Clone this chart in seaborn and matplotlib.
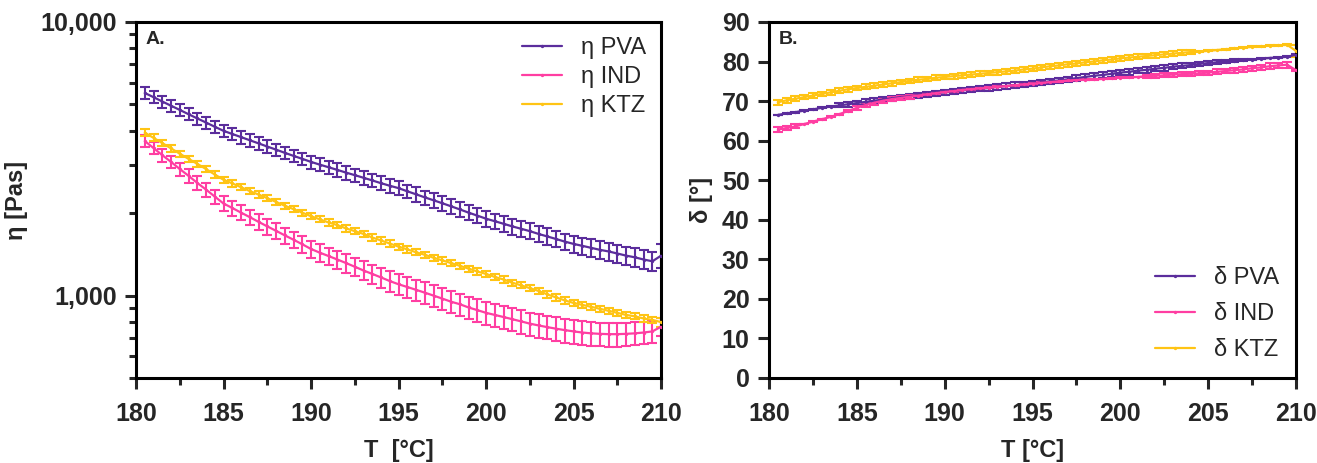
import matplotlib
matplotlib.use('Agg')
import matplotlib.pyplot as plt
import matplotlib.ticker as mticker
import seaborn as sns
import pandas as pd

# temperature points (°C)
temp = [180.5, 181, 181.5, 182, 182.5, 183, 183.5, 184, 184.5, 185,
        185.5, 186, 186.5, 187, 187.5, 188, 188.5, 189, 189.5, 190,
        190.5, 191, 191.5, 192, 192.5, 193, 193.5, 194, 194.5, 195,
        195.5, 196, 196.5, 197, 197.5, 198, 198.5, 199, 199.5, 200,
        200.5, 201, 201.5, 202, 202.5, 203, 203.5, 204, 204.5, 205,
        205.5, 206, 206.5, 207, 207.5, 208, 208.5, 209, 209.5, 210]

# complex viscosity eta [Pas]
eta_pva = [5500, 5310, 5120, 4940, 4770, 4600, 4440, 4290, 4140, 4000,
           3895, 3795, 3695, 3600, 3505, 3415, 3325, 3240, 3160, 3080,
           3010, 2945, 2880, 2815, 2755, 2695, 2635, 2575, 2520, 2470,
           2405, 2345, 2285, 2230, 2175, 2120, 2065, 2010, 1960, 1910,
           1870, 1830, 1790, 1755, 1720, 1680, 1645, 1610, 1575, 1545,
           1520, 1495, 1470, 1450, 1425, 1400, 1380, 1355, 1335, 1400]
eta_pva_err = [280, 270, 260, 250, 240, 235, 225, 220, 215, 210,
               205, 200, 195, 190, 185, 180, 180, 175, 170, 170,
               165, 165, 160, 160, 155, 155, 150, 150, 145, 145,
               140, 140, 135, 135, 130, 130, 130, 125, 125, 125,
               120, 120, 120, 115, 115, 115, 115, 110, 110, 110,
               110, 110, 110, 110, 108, 108, 108, 107, 107, 140]

eta_ind = [3670, 3460, 3260, 3080, 2900, 2740, 2580, 2440, 2300, 2170,
           2090, 2010, 1935, 1860, 1790, 1725, 1660, 1600, 1540, 1480,
           1435, 1395, 1355, 1315, 1275, 1235, 1200, 1165, 1130, 1100,
           1075, 1050, 1025, 1000, 975, 950, 930, 905, 885, 865,
           850, 835, 820, 805, 790, 778, 767, 757, 748, 740,
           733, 728, 725, 723, 723, 725, 728, 733, 740, 770]
eta_ind_err = [185, 180, 175, 165, 160, 155, 150, 145, 140, 135,
               130, 128, 125, 120, 118, 115, 112, 110, 108, 105,
               104, 103, 102, 101, 100, 99, 98, 97, 96, 95,
               94, 93, 92, 90, 89, 88, 86, 85, 84, 82,
               81, 80, 79, 78, 77, 76, 75, 75, 74, 74,
               73, 73, 72, 72, 72, 71, 70, 70, 68, 60]

eta_ktz = [3940, 3770, 3610, 3450, 3300, 3160, 3030, 2900, 2770, 2650,
           2570, 2490, 2410, 2340, 2270, 2200, 2130, 2070, 2010, 1950,
           1900, 1850, 1810, 1760, 1720, 1680, 1630, 1590, 1550, 1510,
           1475, 1440, 1410, 1375, 1345, 1315, 1285, 1255, 1225, 1200,
           1170, 1145, 1115, 1090, 1065, 1040, 1010, 985, 960, 940,
           925, 910, 895, 880, 865, 850, 840, 825, 815, 800]
eta_ktz_err = [120, 110, 100, 95, 90, 85, 80, 78, 75, 72,
               70, 68, 65, 63, 60, 58, 56, 54, 52, 50,
               49, 48, 47, 46, 45, 44, 43, 42, 41, 40,
               39, 38, 37, 36, 35, 34, 33, 33, 32, 31,
               30, 30, 29, 28, 28, 27, 27, 26, 25, 25,
               24, 24, 23, 23, 23, 22, 22, 22, 21, 30]

# phase angle delta [°]
delta_pva = [66.5, 66.9, 67.2, 67.6, 67.9, 68.3, 68.6, 68.9, 69.2, 69.5,
             69.8, 70.1, 70.4, 70.7, 71.0, 71.2, 71.5, 71.7, 72.0, 72.2,
             72.4, 72.7, 72.9, 73.1, 73.3, 73.6, 73.8, 74.0, 74.2, 74.4,
             74.7, 75.0, 75.2, 75.5, 75.8, 76.1, 76.4, 76.6, 76.9, 77.2,
             77.4, 77.7, 77.9, 78.2, 78.4, 78.7, 78.9, 79.1, 79.4, 79.6,
             79.8, 80.0, 80.2, 80.4, 80.5, 80.7, 80.9, 81.0, 81.2, 81.7]
delta_pva_err = [0.1, 0.1, 0.1, 0.1, 0.1, 0.1, 0.1, 0.5, 0.6, 0.6,
                 0.6, 0.6, 0.6, 0.6, 0.6, 0.6, 0.6, 0.6, 0.6, 0.6,
                 0.6, 0.6, 0.6, 0.6, 0.7, 0.7, 0.7, 0.7, 0.7, 0.7,
                 0.7, 0.7, 0.7, 0.7, 0.7, 0.7, 0.7, 0.7, 0.7, 0.7,
                 0.7, 0.7, 0.7, 0.7, 0.7, 0.6, 0.6, 0.6, 0.5, 0.5,
                 0.5, 0.4, 0.4, 0.3, 0.1, 0.1, 0.1, 0.1, 0.1, 0.1]

delta_ind = [62.8, 63.2, 63.6, 64.2, 64.8, 65.4, 66.0, 66.7, 67.5, 68.3,
             69.0, 69.6, 70.1, 70.5, 70.8, 71.1, 71.4, 71.7, 72.0, 72.3,
             72.5, 72.8, 73.0, 73.2, 73.4, 73.6, 73.8, 74.0, 74.2, 74.4,
             74.6, 74.8, 75.0, 75.2, 75.3, 75.4, 75.5, 75.6, 75.8, 75.9,
             76.0, 76.1, 76.3, 76.4, 76.5, 76.7, 76.8, 76.9, 77.0, 77.2,
             77.4, 77.6, 77.8, 78.0, 78.3, 78.5, 78.8, 79.0, 79.2, 77.8]
delta_ind_err = [0.6, 0.6, 0.5, 0.1, 0.1, 0.1, 0.1, 0.1, 0.3, 0.5,
                 0.5, 0.5, 0.5, 0.5, 0.5, 0.5, 0.1, 0.1, 0.1, 0.1,
                 0.1, 0.1, 0.1, 0.1, 0.1, 0.1, 0.1, 0.1, 0.1, 0.1,
                 0.1, 0.1, 0.1, 0.1, 0.1, 0.1, 0.1, 0.1, 0.1, 0.1,
                 0.1, 0.1, 0.4, 0.5, 0.5, 0.5, 0.5, 0.5, 0.5, 0.5,
                 0.6, 0.6, 0.6, 0.6, 0.6, 0.7, 0.7, 0.7, 0.8, 0.3]

delta_ktz = [69.7, 70.2, 70.6, 71.0, 71.4, 71.8, 72.2, 72.6, 73.0, 73.3,
             73.6, 73.9, 74.2, 74.5, 74.8, 75.1, 75.4, 75.6, 75.9, 76.1,
             76.3, 76.5, 76.7, 76.9, 77.1, 77.3, 77.5, 77.7, 78.0, 78.2,
             78.5, 78.8, 79.0, 79.3, 79.5, 79.8, 80.0, 80.3, 80.5, 80.8,
             81.0, 81.2, 81.4, 81.6, 81.8, 82.0, 82.2, 82.4, 82.5, 82.7,
             82.9, 83.1, 83.3, 83.5, 83.7, 83.8, 84.0, 84.1, 84.2, 82.7]
delta_ktz_err = [0.6, 0.6, 0.6, 0.6, 0.6, 0.6, 0.6, 0.6, 0.6, 0.6,
                 0.6, 0.6, 0.6, 0.6, 0.6, 0.6, 0.6, 0.6, 0.6, 0.6,
                 0.6, 0.6, 0.6, 0.6, 0.6, 0.6, 0.6, 0.6, 0.6, 0.6,
                 0.6, 0.6, 0.6, 0.6, 0.6, 0.6, 0.6, 0.6, 0.6, 0.6,
                 0.6, 0.6, 0.6, 0.6, 0.6, 0.6, 0.6, 0.5, 0.1, 0.1,
                 0.1, 0.1, 0.1, 0.1, 0.1, 0.1, 0.1, 0.1, 0.1, 1.5]

colors = {'PVA': '#5b2d9c', 'IND': '#ff3ea2', 'KTZ': '#ffc414'}

sns.set_style('white')
plt.rcParams['font.family'] = ['Liberation Sans', 'DejaVu Sans']

fig = plt.figure(figsize=(13.17, 4.63), dpi=100)
ax1 = fig.add_axes([0.1033, 0.1836, 0.3987, 0.769])
ax2 = fig.add_axes([0.584, 0.1836, 0.4, 0.769])


def draw(ax, sym, series):
    for name, vals, errs in series:
        df = pd.DataFrame({'T': temp, 'v': vals})
        ax.errorbar(temp, vals, yerr=errs, fmt='none', ecolor=colors[name],
                    elinewidth=1.5, capsize=3.6, capthick=1.5, zorder=2)
        sns.lineplot(data=df, x='T', y='v', ax=ax, color=colors[name], lw=1.6,
                     marker='o', markersize=2.4, markeredgewidth=0,
                     label=f'{sym} {name}', zorder=3)


draw(ax1, 'η', [('PVA', eta_pva, eta_pva_err),
                ('IND', eta_ind, eta_ind_err),
                ('KTZ', eta_ktz, eta_ktz_err)])
draw(ax2, 'δ', [('PVA', delta_pva, delta_pva_err),
                ('IND', delta_ind, delta_ind_err),
                ('KTZ', delta_ktz, delta_ktz_err)])

# left: log scale viscosity
ax1.set_yscale('log')
ax1.set_ylim(500, 10000)
ax1.yaxis.set_major_locator(mticker.FixedLocator([1000, 10000]))
ax1.yaxis.set_major_formatter(mticker.FuncFormatter(lambda v, p: f'{int(v):,}'))
ax1.yaxis.set_minor_locator(mticker.LogLocator(base=10, subs=range(2, 10)))
ax1.yaxis.set_minor_formatter(mticker.NullFormatter())
ax1.set_ylabel('η [Pas]', fontsize=17, fontweight='bold', labelpad=9)
ax1.set_xlabel('T  [°C]', fontsize=17, fontweight='bold', labelpad=10)

# right: phase angle
ax2.set_ylim(0, 90)
ax2.set_yticks(range(0, 91, 10))
ax2.set_ylabel('δ [°]', fontsize=17, fontweight='bold', labelpad=6)
ax2.set_xlabel('T [°C]', fontsize=17, fontweight='bold', labelpad=10)

for ax, letter in [(ax1, 'A.'), (ax2, 'B.')]:
    ax.set_xlim(180, 210)
    ax.set_xticks(range(180, 211, 5))
    ax.xaxis.set_minor_locator(mticker.MultipleLocator(2.5))
    for s in ax.spines.values():
        s.set_linewidth(2.2)
        s.set_color('black')
    ax.tick_params(which='major', direction='out', length=8, width=2.2,
                   labelsize=18, pad=6, left=True, bottom=True)
    ax.tick_params(axis='x', which='major', pad=9)
    ax.tick_params(which='minor', direction='out', length=5, width=2.2,
                   left=True, bottom=True)
    for lab in ax.get_xticklabels() + ax.get_yticklabels():
        lab.set_fontweight('bold')
    ax.text(0.018, 0.975, letter, transform=ax.transAxes, fontsize=14,
            fontweight='bold', va='top', ha='left')

ax1.legend(loc='upper right', frameon=False, fontsize=17, handlelength=1.7,
           handletextpad=0.8, labelspacing=0.3, borderaxespad=0.25)
ax2.legend(loc='lower right', frameon=False, fontsize=17, handlelength=1.7,
           handletextpad=0.8, labelspacing=0.6, borderaxespad=0.3)

fig.savefig('out.png', dpi=100)
